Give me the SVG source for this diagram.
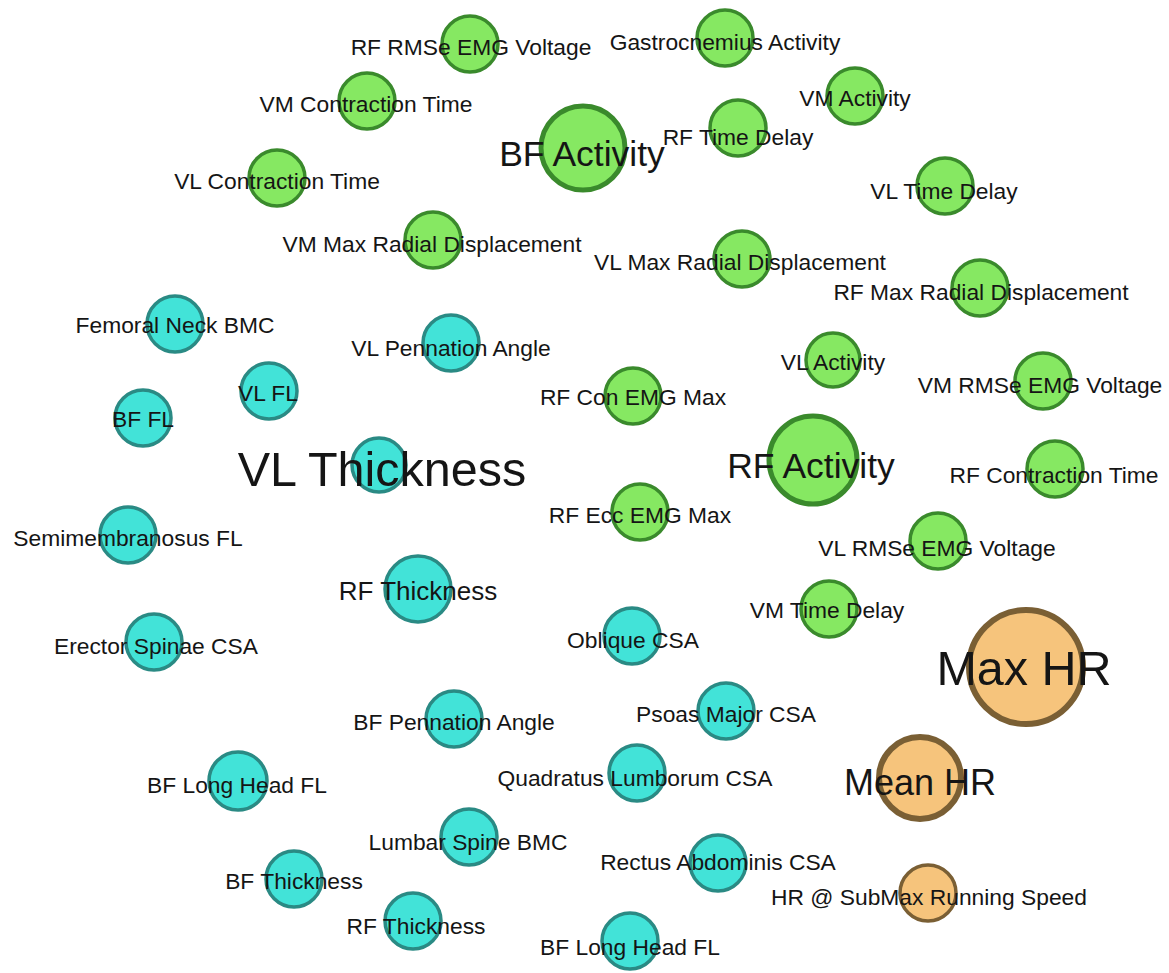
<svg xmlns="http://www.w3.org/2000/svg" width="1169" height="973" viewBox="0 0 1169 973">
  <style>
    text { font-family: "Liberation Sans", Arial, sans-serif; fill: #151515; text-anchor: middle; font-size: 22.8px; }
    .g { fill: #86e862; stroke: #3a8a2c; stroke-width: 3.5; }
    .gb { fill: #86e862; stroke: #3a8a2c; stroke-width: 5; }
    .c { fill: #42e3d8; stroke: #2a8a84; stroke-width: 3.5; }
    .o { fill: #f6c47c; stroke: #7a5f34; stroke-width: 3.5; }
    .ob { fill: #f6c47c; stroke: #7a5f34; stroke-width: 6; }
    .m { font-size: 35.5px; }
    .l { font-size: 48.5px; }
    .s26 { font-size: 26px; }
  </style>
  <rect width="1169" height="973" fill="#ffffff"/>

  <!-- muscle activity / timing nodes -->
  <g id="rf-rmse-emg-voltage"><circle class="g" cx="470" cy="44" r="28"/><text x="471" y="55">RF RMSe EMG Voltage</text></g>
  <g id="gastrocnemius-activity"><circle class="g" cx="725" cy="38" r="28"/><text x="725" y="50">Gastrocnemius Activity</text></g>
  <g id="vm-contraction-time"><circle class="g" cx="367" cy="101" r="28"/><text x="366" y="112">VM Contraction Time</text></g>
  <g id="vm-activity"><circle class="g" cx="855" cy="96" r="28"/><text x="855" y="106">VM Activity</text></g>
  <g id="bf-activity"><circle class="gb" cx="583" cy="148" r="42"/><text class="m" x="582" y="166">BF Activity</text></g>
  <g id="rf-time-delay"><circle class="g" cx="738" cy="128" r="28"/><text x="738" y="145">RF Time Delay</text></g>
  <g id="vl-contraction-time"><circle class="g" cx="277" cy="178" r="28"/><text x="277" y="189">VL Contraction Time</text></g>
  <g id="vl-time-delay"><circle class="g" cx="945" cy="186" r="28"/><text x="944" y="199">VL Time Delay</text></g>
  <g id="vm-max-radial-displacement"><circle class="g" cx="433" cy="240" r="28"/><text x="432" y="252">VM Max Radial Displacement</text></g>
  <g id="vl-max-radial-displacement"><circle class="g" cx="742" cy="259" r="28"/><text x="740" y="270">VL Max Radial Displacement</text></g>
  <g id="rf-max-radial-displacement"><circle class="g" cx="980" cy="288" r="28"/><text x="981" y="300">RF Max Radial Displacement</text></g>
  <g id="vl-activity"><circle class="g" cx="833" cy="360" r="27"/><text x="833" y="370">VL Activity</text></g>
  <g id="rf-con-emg-max"><circle class="g" cx="633" cy="396" r="28"/><text x="633" y="405">RF Con EMG Max</text></g>
  <g id="vm-rmse-emg-voltage"><circle class="g" cx="1043" cy="381" r="28"/><text x="1040" y="393">VM RMSe EMG Voltage</text></g>
  <g id="rf-activity"><circle class="gb" cx="813" cy="460" r="44"/><text class="m" x="811" y="478">RF Activity</text></g>
  <g id="rf-contraction-time"><circle class="g" cx="1055" cy="469" r="28"/><text x="1054" y="483">RF Contraction Time</text></g>
  <g id="rf-ecc-emg-max"><circle class="g" cx="640" cy="512" r="28"/><text x="640" y="523">RF Ecc EMG Max</text></g>
  <g id="vl-rmse-emg-voltage"><circle class="g" cx="938" cy="541" r="28"/><text x="937" y="556">VL RMSe EMG Voltage</text></g>
  <g id="vm-time-delay"><circle class="g" cx="829" cy="609" r="28"/><text x="827" y="618">VM Time Delay</text></g>

  <!-- morphology nodes -->
  <g id="femoral-neck-bmc"><circle class="c" cx="175" cy="324" r="28"/><text x="175" y="333">Femoral Neck BMC</text></g>
  <g id="vl-pennation-angle"><circle class="c" cx="451" cy="343" r="28"/><text x="451" y="356">VL Pennation Angle</text></g>
  <g id="vl-fl"><circle class="c" cx="269" cy="391" r="28"/><text x="268" y="401">VL FL</text></g>
  <g id="bf-fl"><circle class="c" cx="143" cy="418" r="28"/><text x="143" y="427">BF FL</text></g>
  <g id="vl-thickness"><circle class="c" cx="379" cy="465" r="27"/><text class="l" x="382" y="486">VL Thickness</text></g>
  <g id="semimembranosus-fl"><circle class="c" cx="128" cy="535" r="28"/><text x="128" y="546">Semimembranosus FL</text></g>
  <g id="rf-thickness-1"><circle class="c" cx="418" cy="589" r="33"/><text class="s26" x="418" y="600">RF Thickness</text></g>
  <g id="erector-spinae-csa"><circle class="c" cx="154" cy="642" r="28"/><text x="156" y="654">Erector Spinae CSA</text></g>
  <g id="oblique-csa"><circle class="c" cx="632" cy="636" r="28"/><text x="633" y="648">Oblique CSA</text></g>
  <g id="psoas-major-csa"><circle class="c" cx="726" cy="711" r="28"/><text x="726" y="722">Psoas Major CSA</text></g>
  <g id="bf-pennation-angle"><circle class="c" cx="454" cy="719" r="28"/><text x="454" y="730">BF Pennation Angle</text></g>
  <g id="bf-long-head-fl-1"><circle class="c" cx="238" cy="781" r="29"/><text x="237" y="793">BF Long Head FL</text></g>
  <g id="quadratus-lumborum-csa"><circle class="c" cx="637" cy="773" r="28"/><text x="635" y="786">Quadratus Lumborum CSA</text></g>
  <g id="lumbar-spine-bmc"><circle class="c" cx="469" cy="837" r="28"/><text x="468" y="850">Lumbar Spine BMC</text></g>
  <g id="rectus-abdominis-csa"><circle class="c" cx="718" cy="863" r="28"/><text x="718" y="870">Rectus Abdominis CSA</text></g>
  <g id="bf-thickness"><circle class="c" cx="294" cy="879" r="28"/><text x="294" y="889">BF Thickness</text></g>
  <g id="rf-thickness-2"><circle class="c" cx="413" cy="921" r="28"/><text x="416" y="934">RF Thickness</text></g>
  <g id="bf-long-head-fl-2"><circle class="c" cx="630" cy="941" r="28"/><text x="630" y="955">BF Long Head FL</text></g>

  <!-- heart rate nodes -->
  <g id="max-hr"><circle class="ob" cx="1026" cy="667" r="57"/><text class="l" x="1024" y="685">Max HR</text></g>
  <g id="mean-hr"><circle class="ob" cx="920" cy="778" r="41"/><text x="920" y="795" style="font-size:36px">Mean HR</text></g>
  <g id="hr-submax-running-speed"><circle class="o" cx="928" cy="893" r="28"/><text x="929" y="905">HR @ SubMax Running Speed</text></g>
</svg>
